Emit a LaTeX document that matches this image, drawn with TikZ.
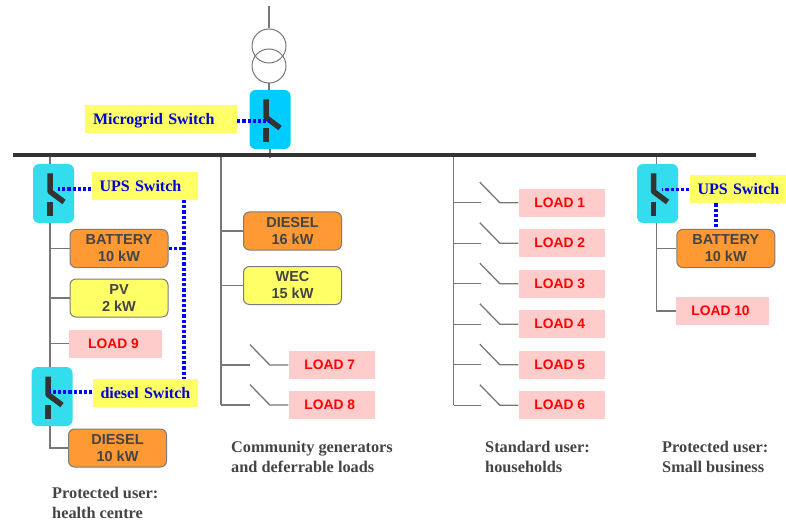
\documentclass[tikz,border=0pt]{standalone}
\usepackage{fontspec}
\setmainfont{Liberation Serif}
\setsansfont{Liberation Sans}
\usepackage{tikz}
\definecolor{swcyan}{HTML}{00CCFF}
\definecolor{swteal}{HTML}{33DDEE}
\definecolor{labelyellow}{HTML}{FFFF66}
\definecolor{genorange}{HTML}{FF9933}
\definecolor{loadpink}{HTML}{FFCCCC}
\definecolor{darkline}{HTML}{333333}
\definecolor{greyline}{HTML}{777777}
\definecolor{textdark}{HTML}{444444}
\tikzset{
  feeder/.style={draw=greyline, line width=1.3pt},
  blade/.style={draw=darkline, line width=5.5pt},
  signal/.style={draw=blue, line width=3.6pt, dash pattern=on 3.2pt off 2pt},
  swbox/.style={fill=#1, rounded corners=6pt, minimum width=41pt, minimum height=59pt, inner sep=0pt},
  swlabel/.style={fill=labelyellow, text=blue!85!black, font=\fontsize{16}{16}\selectfont\bfseries, inner xsep=8pt, inner ysep=0pt, minimum height=28pt, text height=10pt, text depth=0pt, align=left, text width=#1},
  genbox/.style={draw=textdark!70, fill=#1, rounded corners=6pt, line width=1pt, minimum width=98pt, minimum height=38pt, inner sep=0pt, align=center, text=textdark, font=\sffamily\fontsize{14.5}{17}\selectfont\bfseries},
  loadbox/.style={fill=loadpink, text=red, minimum width=#1, minimum height=28pt, inner sep=0pt, font=\sffamily\fontsize{13.8}{15}\selectfont\bfseries, execute at end node=\hspace{4pt}},
  caption/.style={anchor=west, inner sep=0pt, align=left, text=textdark, font=\fontsize{16.3}{20}\selectfont\bfseries}
}
\begin{document}
\begin{tikzpicture}[x=1pt, y=-1pt]
\useasboundingbox (0,0) rectangle (786,521);

% Transformer
\node[draw=greyline, circle, line width=1pt, minimum size=34pt, inner sep=0pt] (trafoA) at (269,46) {};
\node[draw=greyline, circle, line width=1pt, minimum size=34pt, inner sep=0pt] (trafoB) at (269,66) {};
\coordinate (lineup) at (269,6);
\draw[feeder] (lineup) -- (trafoA.north);

% Busbar
\coordinate (busL) at (13,155);
\coordinate (busR) at (756,155);
\coordinate (feedA) at (50,155);
\coordinate (feedB) at (221,155);
\coordinate (feedC) at (453.5,155);
\coordinate (feedD) at (656.5,155);
\coordinate (feedM) at (270,158);

% Microgrid switch
\node[swbox=swcyan] (swMain) at (270,119.5) {};
\draw[feeder] (trafoB.south) -- (swMain.north -| trafoB.south);
\draw[feeder] (swMain.south -| feedM) -- (feedM);
\node[swlabel=136pt] (labMain) at (161,119.5) {\mbox{Microgrid Switch}};

% Protected user: health centre
\node[swbox=swteal] (swUps) at (53.5,193.5) {};
\node[swbox=swteal] (swDiesel) at (52,396.5) {};
\node[swlabel=90.5pt] (labUps) at (144.75,186.5) {\mbox{UPS Switch}};
\node[swlabel=89.5pt] (labDiesel) at (145.25,393) {\mbox{diesel Switch}};
\node[genbox=genorange] (batA) at (119,248.5) {BATTERY\\10 kW};
\node[genbox=labelyellow] (pvA) at (119,298) {PV\\2 kW};
\node[loadbox=93pt] (load9) at (115.5,343.5) {LOAD 9};
\node[genbox=genorange] (dieselA) at (117.5,448) {DIESEL\\10 kW};
\draw[feeder] (feedA) -- (swUps.north -| feedA);
\draw[feeder] (swUps.south -| feedA) -- (swDiesel.north -| feedA);
\draw[feeder] (swDiesel.south -| feedA) |- (dieselA.west);
\draw[feeder] (batA.west -| feedA) -- (batA.west);
\draw[feeder] (pvA.west -| feedA) -- (pvA.west);
\draw[feeder] (load9.west -| feedA) -- (load9.west);

% Community generators and deferrable loads
\node[genbox=genorange] (dieselB) at (292.5,231) {DIESEL\\16 kW};
\node[genbox=labelyellow] (wecB) at (292.5,285.5) {WEC\\15 kW};
\node[loadbox=86.5pt] (load7) at (331.75,365) {LOAD 7};
\node[loadbox=86.5pt] (load8) at (331.75,405) {LOAD 8};
\draw[feeder] (feedB) -- (load8.west -| feedB);
\draw[feeder] (dieselB.west -| feedB) -- (dieselB.west);
\draw[feeder] (wecB.west -| feedB) -- (wecB.west);
\foreach \i in {7,8} {
  \draw[feeder] (load\i.west) -- ++(-18.5,0) -- ++(-20,-20.5);
  \draw[feeder] (load\i.west -| feedB) -- ++(28.5,0);
}

% Standard user: households
\foreach \i/\ypos in {1/202.7, 2/243.2, 3/283.7, 4/324.2, 5/364.7, 6/405.2} {
  \node[loadbox=86.5pt] (load\i) at (561.75,\ypos) {LOAD \i};
  \draw[feeder] (load\i.west) -- ++(-18.5,0) -- ++(-20,-20.5);
  \draw[feeder] (load\i.west -| feedC) -- ++(27,0);
}
\draw[feeder] (feedC) -- (load6.west -| feedC);

% Protected user: small business
\node[swbox=swteal] (swUpsD) at (657.5,193.5) {};
\node[swlabel=80.5pt] (labUpsD) at (737.75,189.5) {\mbox{UPS Switch}};
\node[genbox=genorange] (batD) at (725.75,248.5) {BATTERY\\10 kW};
\node[loadbox=93pt] (load10) at (722.5,311) {LOAD 10};
\draw[feeder] (feedD) -- (swUpsD.north -| feedD);
\draw[feeder] (swUpsD.south -| feedD) |- (load10.west);
\draw[feeder] (batD.west -| feedD) -- (batD.west);

% Switch blades
\foreach \sw/\dx in {swMain/-4, swUps/-3.5, swDiesel/-4, swUpsD/-4} {
  \draw[blade, line join=bevel] ([shift={(\dx,-20)}]\sw.center) -- ([shift={(\dx,-2)}]\sw.center) -- ([shift={(\dx+14,8.5)}]\sw.center);
  \draw[blade] ([shift={(\dx,8.5)}]\sw.center) -- ([shift={(\dx,22.5)}]\sw.center);
}

% Busbar on top
\draw[darkline, line width=3.6pt] (busL) -- (busR);

% Control signals
\coordinate (hubM) at (270,121);
\coordinate (hubU) at (58,189);
\coordinate (hubD) at (50,392);
\coordinate (hubR) at (662,189.5);
\draw[signal] (labMain.east |- hubM) -- (hubM);
\draw[signal] (labUps.west |- hubU) -- (hubU);
\draw[signal] (labDiesel.west |- hubD) -- (hubD);
\draw[signal] (labUpsD.west |- hubR) -- (hubR);
\coordinate (riserA) at (184,200);
\draw[signal] (riserA) -- (riserA |- labDiesel.north);
\draw[signal] (batA.east) -- (batA.east -| riserA);
\coordinate (riserD) at (716,203.5);
\draw[signal] (riserD) -- (riserD |- batD.north);

% Captions
\node[caption] (capA) at (52,503) {Protected user:\\health centre};
\node[caption] (capB) at (231,457) {Community generators\\and deferrable loads};
\node[caption] (capC) at (485,457) {Standard user:\\households};
\node[caption] (capD) at (662,457) {Protected user:\\Small business};
\end{tikzpicture}
\end{document}
